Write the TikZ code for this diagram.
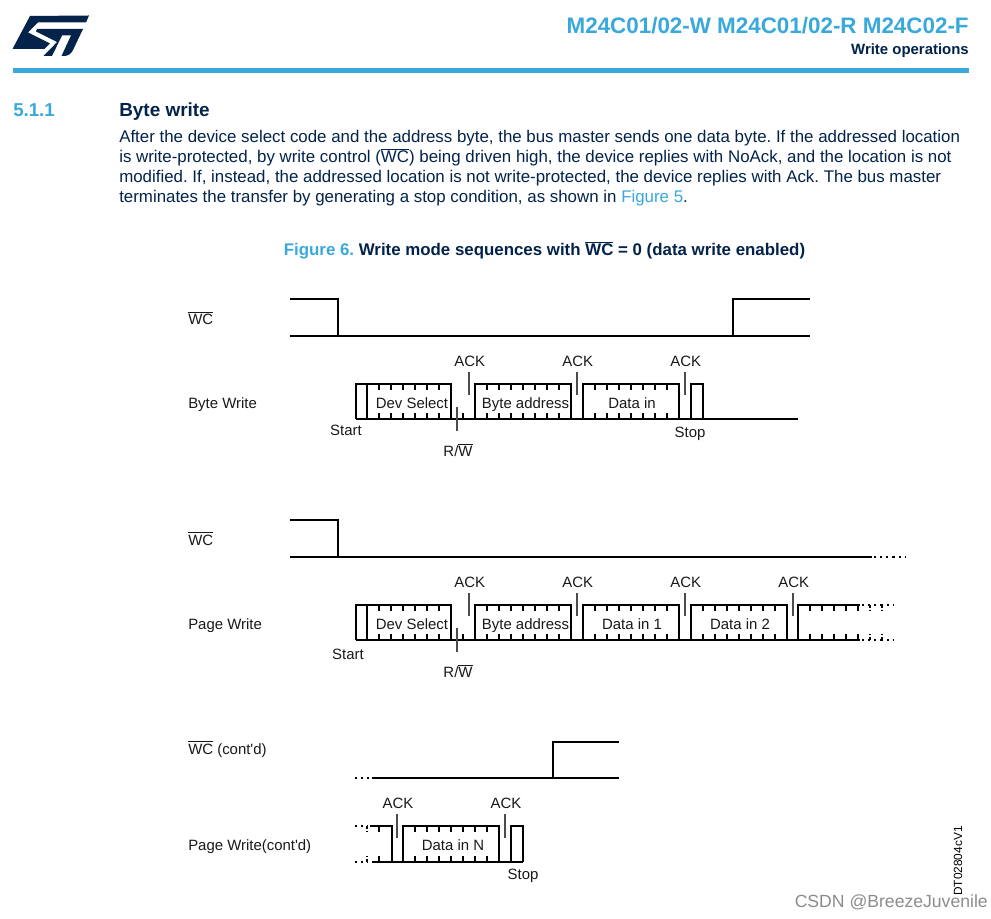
\documentclass[tikz,border=0pt]{standalone}
\usepackage{fontspec}
\setmainfont{Liberation Sans}[Ligatures=TeXOff]
\definecolor{stblue}{HTML}{39A9DC}
\definecolor{stnavy}{HTML}{03234B}
\newcommand{\wcbar}[1]{$\overline{\mbox{#1}}$}
\tikzset{x=0.75pt,y=-0.75pt,
 wave/.style={draw=black,line width=1.1pt,line cap=butt},
 tickline/.style={draw=black,line width=0.8pt},
 marker/.style={draw=black!70,line width=0.8pt},
 dotsline/.style={draw=black,line width=1.1pt,dash pattern=on 1.6pt off 3pt},
 lab/.style={font=\fontsize{11.2pt}{12pt}\selectfont,inner sep=0pt,text=black!90},
 body/.style={font=\fontsize{12.66pt}{15pt}\selectfont,inner sep=0pt,text=stnavy,anchor=base west}}
% #1 left, #2 right, #3 top, #4 bottom: a byte frame with its clock ticks
\newcommand{\byteframe}[4]{%
 \draw[wave] (#1,#4) -- (#1,#3) -- (#2,#3) -- (#2,#4);
 \pgfmathsetmacro{\tA}{#1+12}\pgfmathsetmacro{\tB}{#1+24}\pgfmathsetmacro{\tL}{#2-10}
 \foreach \tx in {\tA,\tB,...,\tL}{
  \draw[tickline] (\tx,#3) -- ++(0,6);
  \draw[tickline] (\tx,#4) -- ++(0,-6);}}
\frenchspacing
\begin{document}
\begin{tikzpicture}
\useasboundingbox (0,0) rectangle (991,919);
\fill[white] (0,0) rectangle (991,919);
% logo
\fill[stnavy] (30,16) -- (89,15.5) -- (86,22.5) -- (38,22.5) -- (28,32.5) -- (50,43.5) -- (44.5,49) -- (12.5,49) -- cycle;
\fill[stnavy] (37,29) -- (83,29) -- (73,50) .. controls (71,54) and (68,56) .. (64,56) -- (61.5,56) -- (71,35.5) -- (62,35.5) -- (52,56) -- (43.5,56) -- (51.5,48) -- (57,42) -- (36,31.5) -- cycle;
\fill[stblue] (13,68) rectangle (969,73);
% header
\node[anchor=base east,inner sep=0pt,text=stblue,font=\bfseries\fontsize{16.8pt}{18pt}\selectfont] (title) at (969,33.5) {M24C01/02-W M24C01/02-R M24C02-F};
\node[anchor=base east,inner sep=0pt,text=stnavy,font=\bfseries\fontsize{11.2pt}{12pt}\selectfont] (sect) at (969,54.5) {Write operations};
\node[anchor=base west,inner sep=0pt,text=stblue,font=\bfseries\fontsize{14pt}{15pt}\selectfont] (num) at (13,116.5) {5.1.1};
\node[anchor=base west,inner sep=0pt,text=stnavy,font=\bfseries\fontsize{14.2pt}{15pt}\selectfont] (head) at (119,116.5) {Byte write};
\node[body] (p1) at (119,142.8) {After the device select code and the address byte, the bus master sends one data byte. If the addressed location};
\node[body] (p2) at (119,162.8) {is write-protected, by write control (\wcbar{WC}) being driven high, the device replies with NoAck, and the location is not};
\node[body] (p3) at (119,182.8) {modified. If, instead, the addressed location is not write-protected, the device replies with Ack. The bus master};
\node[body] (p4) at (119,202.8) {terminates the transfer by generating a stop condition, as shown in \textcolor{stblue}{Figure 5}.};
\node[anchor=base,inner sep=0pt,text=stnavy,font=\bfseries\fontsize{12.65pt}{15pt}\selectfont] (cap) at (544.5,255.5) {\textcolor{stblue}{Figure 6.} Write mode sequences with \wcbar{\bfseries WC} = 0 (data write enabled)};
% row labels
\node[lab,anchor=base west] (l1) at (188,324.5) {\wcbar{WC}};
\node[lab,anchor=base west] (l2) at (188,408.5) {Byte Write};
\node[lab,anchor=base west] (l3) at (188,545) {\wcbar{WC}};
\node[lab,anchor=base west] (l4) at (188,629) {Page Write};
\node[lab,anchor=base west] (l5) at (188,754) {\wcbar{WC} (cont'd)};
\node[lab,anchor=base west] (l6) at (188,850) {Page Write(cont'd)};
% --- byte write
\draw[wave] (290,299) -- (338,299) -- (338,336);
\draw[wave] (290,336) -- (810,336);
\draw[wave] (733,336) -- (733,299) -- (810,299);
\draw[wave] (356,419) -- (798,419);
\draw[wave] (367,419) -- (367,384) -- (356,384) -- (356,419);
\byteframe{367}{451}{384}{419}
\draw[tickline] (463,419) -- ++(0,-6);
\byteframe{475}{571}{384}{419}
\byteframe{583}{679}{384}{419}
\draw[wave] (691,419) -- (691,384) -- (703,384) -- (703,419);
\draw[marker] (457,407) -- (457,431);
\foreach \mx in {469,577,685}{\draw[marker] (\mx,372) -- (\mx,395);
 \node[lab,anchor=base] at (\mx+0.8,366.5) {ACK};}
\node[lab,anchor=base] (s1) at (346,435) {Start};
\node[lab,anchor=base] (rw1) at (458,456) {R/\wcbar{W}};
\node[lab,anchor=base] (st1) at (690,437) {Stop};
\node[lab,anchor=base] (d1) at (412,408.5) {Dev Select};
\node[lab,anchor=base] (b1) at (525.5,408.5) {Byte address};
\node[lab,anchor=base] (i1) at (632,408.5) {Data in};
% --- page write
\draw[wave] (290,520) -- (338,520) -- (338,557);
\draw[wave] (290,557) -- (872,557);
\draw[dotsline] (874,557) -- (906,557);
\draw[wave] (356,640) -- (860,640);
\draw[wave] (367,640) -- (367,605) -- (356,605) -- (356,640);
\byteframe{367}{451}{605}{640}
\draw[tickline] (463,640) -- ++(0,-6);
\byteframe{475}{571}{605}{640}
\byteframe{583}{679}{605}{640}
\byteframe{691}{787}{605}{640}
\draw[wave] (798,640) -- (798,605) -- (860,605);
\foreach \tx in {810,822,834,846,858}{
 \draw[tickline] (\tx,605) -- ++(0,6);
 \draw[tickline] (\tx,640) -- ++(0,-6);}
\draw[dotsline] (862,605) -- (893,605);
\draw[dotsline] (862,640) -- (893,640);
\foreach \tx in {870,882}{
 \draw[tickline,dash pattern=on 2pt off 1.5pt] (\tx,605) -- ++(0,6);
 \draw[tickline,dash pattern=on 2pt off 1.5pt] (\tx,640) -- ++(0,-6);}
\draw[marker] (457,628) -- (457,652);
\foreach \mx in {469,577,685,793}{\draw[marker] (\mx,593) -- (\mx,616);
 \node[lab,anchor=base] at (\mx+0.8,587) {ACK};}
\node[lab,anchor=base] (s2) at (348,659) {Start};
\node[lab,anchor=base] (rw2) at (458,677) {R/\wcbar{W}};
\node[lab,anchor=base] (d2) at (412,629) {Dev Select};
\node[lab,anchor=base] (b2) at (525.5,629) {Byte address};
\node[lab,anchor=base] (i2) at (632,629) {Data in 1};
\node[lab,anchor=base] (i3) at (740,629) {Data in 2};
% --- continued
\draw[dotsline] (355,778) -- (371,778);
\draw[wave] (372,778) -- (619,778);
\draw[wave] (553,778) -- (553,742) -- (619,742);
\draw[dotsline] (355,826) -- (368,826);
\draw[dotsline] (355,862) -- (368,862);
\draw[wave] (370,826) -- (392,826) -- (392,862);
\draw[wave] (372,862) -- (523,862);
\draw[tickline] (379,826) -- ++(0,6);
\draw[tickline] (379,862) -- ++(0,-6);
\draw[tickline,dash pattern=on 2pt off 1.5pt] (367,826) -- ++(0,6);
\draw[tickline,dash pattern=on 2pt off 1.5pt] (367,862) -- ++(0,-6);
\byteframe{403}{499}{826}{862}
\draw[wave] (511,862) -- (511,826) -- (523,826) -- (523,862);
\foreach \mx in {397,505}{\draw[marker] (\mx,814) -- (\mx,838);
 \node[lab,anchor=base] at (\mx+1,808) {ACK};}
\node[lab,anchor=base] (in) at (453,850) {Data in N};
\node[lab,anchor=base] (st3) at (523,879) {Stop};
\node[anchor=center,inner sep=0pt,rotate=90,text=black,font=\fontsize{8.9pt}{10pt}\selectfont] (code) at (958,861) {DT02804cV1};
\node[anchor=base east,inner sep=0pt,text=black!45,font=\fontsize{13.2pt}{14pt}\selectfont] (wm) at (988,907) {CSDN @BreezeJuvenile};
\end{tikzpicture}
\end{document}
